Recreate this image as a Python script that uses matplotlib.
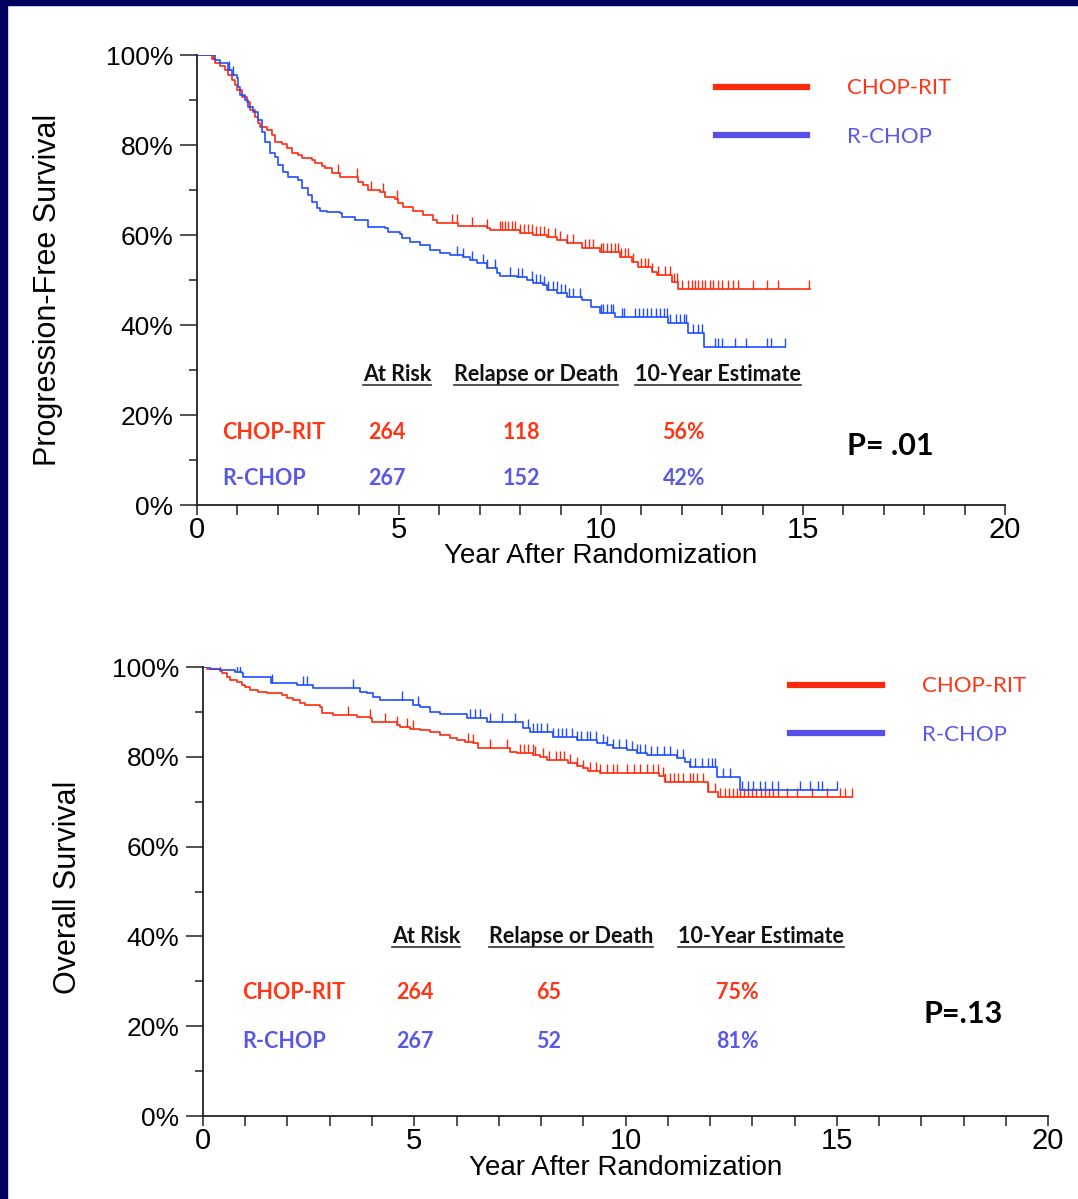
import numpy as np
import matplotlib.pyplot as plt
from matplotlib.lines import Line2D
from matplotlib.patches import Rectangle

# Kaplan-Meier steps: event times (years) and survival (%) right after each step
pfs_rit_t = [0.37, 0.45, 0.57, 0.69, 0.77, 0.87, 0.94, 0.99, 1.11, 1.24, 1.31, 1.44, 1.51, 1.56,
             1.73, 1.86, 1.93, 2.10, 2.23, 2.35, 2.50, 2.60, 2.85, 2.92, 3.09, 3.17, 3.34, 3.54,
             3.99, 4.11, 4.23, 4.53, 4.65, 4.90, 4.98, 5.10, 5.35, 5.59, 5.84, 5.94, 6.46, 7.18,
             7.25, 8.00, 8.32, 8.66, 8.91, 9.16, 9.53, 9.98, 10.47, 10.77, 10.92, 11.26, 11.39,
             11.76, 11.90]
pfs_rit_s = [99.1, 98.2, 97.6, 96.7, 95.6, 94.4, 93.3, 92.2, 90.7, 89.6, 87.8, 86.2, 84.9, 84.0,
             83.3, 82.2, 80.7, 80.2, 79.3, 78.2, 77.8, 77.1, 76.7, 76.0, 75.3, 74.9, 73.8, 72.9,
             71.8, 71.1, 70.0, 69.6, 68.4, 68.0, 67.1, 66.2, 65.4, 64.4, 63.3, 62.7, 62.0, 61.6,
             61.1, 60.4, 60.0, 59.6, 58.9, 58.2, 57.1, 56.2, 55.1, 54.0, 52.9, 51.8, 51.1,
             49.6, 48.0]
pfs_rit_end = 15.17
pfs_rit_cens = [0.1, 0.4, 3.5, 3.97, 4.3, 4.6, 4.95, 6.31, 6.44, 6.81, 7.18, 7.5, 7.55, 7.62,
                7.7, 7.8, 7.87, 8.0, 8.1, 8.2, 8.3, 8.4, 8.5, 8.6, 8.7, 8.86, 8.99, 9.16, 9.3,
                9.6, 9.7, 9.8, 10.0, 10.05, 10.15, 10.25, 10.35, 10.42, 10.5, 10.6, 10.67, 10.8,
                11.0, 11.1, 11.16, 11.26, 11.4, 11.58, 11.7, 11.8, 11.88, 12.0, 12.15, 12.25,
                12.33, 12.4, 12.5, 12.58, 12.7, 12.77, 12.9, 13.0, 13.14, 13.27, 13.39, 13.76,
                14.1, 14.38, 15.15]

pfs_rch_t = [0.45, 0.57, 0.77, 0.87, 0.99, 1.01, 1.06, 1.19, 1.26, 1.39, 1.51, 1.61, 1.68, 1.81,
             1.93, 2.00, 2.13, 2.25, 2.50, 2.60, 2.75, 2.85, 2.97, 3.04, 3.22, 3.54, 3.59, 3.91,
             4.23, 4.65, 4.73, 5.02, 5.07, 5.27, 5.52, 5.77, 6.01, 6.26, 6.58, 6.76, 6.93, 7.18,
             7.43, 7.50, 7.92, 8.17, 8.32, 8.56, 8.66, 8.91, 9.16, 9.53, 9.75, 9.98, 10.35,
             11.66, 12.15, 12.55]
pfs_rch_s = [98.9, 98.2, 96.7, 95.6, 94.9, 92.9, 91.1, 90.0, 88.4, 87.3, 85.6, 82.9, 80.7, 78.2,
             77.3, 75.6, 74.0, 72.9, 72.2, 70.4, 68.9, 67.3, 66.0, 65.3, 65.1, 64.9, 64.0, 63.3,
             61.8, 61.6, 60.7, 60.2, 59.3, 58.4, 57.8, 56.7, 56.0, 55.6, 55.1, 54.4, 53.8, 52.7,
             51.6, 50.9, 50.7, 50.0, 49.3, 48.9, 47.8, 47.1, 46.2, 45.6, 44.0, 42.7, 41.8,
             40.4, 38.2, 35.1]
pfs_rch_end = 14.55
pfs_rch_cens = [0.8, 0.9, 6.44, 6.58, 6.81, 7.08, 7.18, 7.38, 7.75, 7.95, 8.05, 8.3, 8.4, 8.5,
                8.6, 8.7, 8.8, 8.9, 9.0, 9.1, 9.2, 9.3, 9.48, 10.0, 10.05, 10.15, 10.25, 10.3,
                10.52, 10.56, 10.85, 10.95, 11.05, 11.15, 11.25, 11.35, 11.45, 11.55, 11.63,
                11.72, 11.85, 11.95, 12.05, 12.1, 12.28, 12.4, 12.5, 12.82, 12.9, 13.0, 13.32,
                13.6, 14.1, 14.2, 14.55]

os_rit_t = [0.10, 0.40, 0.45, 0.57, 0.64, 0.80, 0.92, 0.99, 1.11, 1.30, 1.51, 1.87, 1.99, 2.13,
            2.30, 2.41, 2.77, 2.82, 3.08, 3.64, 3.95, 4.00, 4.59, 4.66, 4.90, 5.13, 5.37, 5.61,
            5.85, 6.01, 6.20, 6.39, 6.51, 7.27, 7.43, 7.81, 7.98, 8.14, 8.64, 8.85, 8.99, 9.11,
            9.40, 10.80, 10.93, 11.95, 12.19]
os_rit_s = [99.6, 99.2, 98.7, 97.8, 97.1, 96.7, 96.0, 95.5, 94.9, 94.4, 94.1, 93.8, 93.1, 92.7,
            92.0, 91.5, 91.1, 89.8, 89.3, 88.9, 88.6, 87.8, 87.1, 86.6, 86.2, 86.0, 85.5, 84.9,
            84.2, 83.7, 83.3, 83.1, 82.0, 81.1, 80.8, 80.4, 80.0, 79.3, 78.6, 77.9, 77.4, 76.8,
            76.3, 75.7, 74.4, 72.2, 71.0]
os_rit_end = 15.36
os_rit_cens = [0.05, 0.4, 3.43, 3.95, 4.31, 4.59, 4.83, 4.97, 6.27, 6.39, 6.79, 7.2, 7.5, 7.6,
               7.7, 7.8, 7.86, 8.05, 8.2, 8.35, 8.45, 8.55, 8.69, 8.85, 8.99, 9.16, 9.3, 9.4,
               9.56, 9.7, 9.8, 10.03, 10.2, 10.34, 10.5, 10.65, 10.77, 10.89, 10.93, 11.05,
               11.15, 11.25, 11.35, 11.52, 11.6, 11.7, 11.83, 11.95, 12.12, 12.24, 12.35, 12.45,
               12.55, 12.64, 12.7, 12.8, 12.9, 13.0, 13.1, 13.2, 13.3, 13.4, 13.5, 13.6, 13.82,
               14.06, 14.41, 14.77, 15.07, 15.2, 15.36]

os_rch_t = [0.17, 0.40, 0.76, 0.92, 0.95, 1.61, 2.22, 2.60, 3.72, 3.88, 4.02, 4.19, 4.97, 5.14,
            5.37, 5.61, 6.25, 6.72, 7.57, 7.74, 8.28, 8.85, 9.33, 9.56, 9.70, 10.04, 10.27,
            10.51, 11.22, 11.41, 11.53, 12.17, 12.71]
os_rch_s = [99.6, 99.3, 98.9, 98.7, 97.8, 96.4, 96.0, 95.3, 94.4, 94.2, 93.3, 92.7, 91.5, 91.1,
            90.0, 89.5, 88.6, 87.8, 86.4, 85.5, 84.4, 83.7, 83.1, 82.6, 82.0, 81.5, 80.8,
            80.4, 79.7, 78.8, 77.7, 75.5, 72.6]
os_rch_end = 15.0
os_rch_cens = [0.8, 0.88, 1.63, 2.37, 2.46, 3.55, 4.71, 5.09, 6.32, 6.44, 6.56, 6.79, 7.08,
               7.38, 7.7, 7.8, 7.9, 8.0, 8.14, 8.28, 8.4, 8.5, 8.6, 8.73, 8.85, 8.95, 9.09,
               9.16, 9.3, 9.47, 9.56, 9.7, 9.85, 10.0, 10.15, 10.27, 10.34, 10.45, 10.6, 10.75,
               10.9, 11.05, 11.22, 11.36, 11.53, 11.65, 11.8, 11.95, 12.05, 12.12, 12.31,
               12.48, 12.76, 12.9, 13.02, 13.18, 13.3, 13.46, 13.6, 14.13, 14.37, 14.56,
               14.65, 15.0]

arms = ["CHOP-RIT", "R-CHOP"]
header = ["At Risk", "Relapse or Death", "10-Year Estimate"]
pfs_table = [["264", "118", "56%"], ["267", "152", "42%"]]
os_table = [["264", "65", "75%"], ["267", "52", "81%"]]
pfs_p = "P= .01"
os_p = "P=.13"

RED = "#ff2a0d"
BLUE = "#1f4dff"
RED_TXT = "#ff3516"
BLUE_TXT = "#5a58e6"
ARIAL = ["Liberation Sans", "DejaVu Sans"]
SLIDE = ["Lato", "DejaVu Sans"]


def km(ax, t, s, end, cens, color):
    tt = np.r_[0.0, t, end]
    ss = np.r_[100.0, s, s[-1]]
    ax.step(tt, ss, where="post", color=color, lw=1.2)
    idx = np.searchsorted(tt, cens, side="right") - 1
    ax.vlines(cens, ss[idx], ss[idx] + 2.0, color=color, lw=1.0)


def style_axes(ax):
    ax.set_xlim(0, 20)
    ax.set_ylim(0, 100)
    for sp in ["top", "right"]:
        ax.spines[sp].set_visible(False)
    for sp in ["left", "bottom"]:
        ax.spines[sp].set_linewidth(1.3)
        ax.spines[sp].set_color("#222222")
    ax.set_xticks([0, 5, 10, 15, 20])
    ax.set_xticks(range(21), minor=True)
    ax.set_yticks(range(0, 101, 20))
    ax.set_yticks(range(10, 100, 20), minor=True)
    ax.set_yticklabels([f"{v}%" for v in range(0, 101, 20)], family=ARIAL, fontsize=19)
    ax.set_xticklabels(["0", "5", "10", "15", "20"], family=ARIAL, fontsize=21)
    ax.tick_params(axis="x", which="both", length=7, width=1.1, pad=1, color="#222222")
    ax.tick_params(axis="y", which="major", length=12, width=1.1, pad=5, color="#222222")
    ax.tick_params(axis="y", which="minor", length=5.5, width=1.1, color="#222222")


def table(ax, rows, x_head, x_cols, x_name, y_head, y_rows, p_text, p_xy):
    fig = ax.figure
    kw = dict(va="center", family=SLIDE, fontweight="bold", fontsize=15.5)
    heads = [ax.text(x, y_head, h, ha="center", color="#111111", **kw)
             for h, x in zip(header, x_head)]
    for arm, vals, y, c in zip(arms, rows, y_rows, [RED_TXT, BLUE_TXT]):
        ax.text(x_name, y, arm, ha="left", color=c, **kw)
        for v, x in zip(vals, x_cols):
            ax.text(x, y, v, ha="center", color=c, **kw)
    ax.text(p_xy[0], p_xy[1], p_text, ha="center", va="center", family=SLIDE,
            fontweight="bold", fontsize=22, color="black")
    # underline the column headers
    fig.canvas.draw()
    r = fig.canvas.get_renderer()
    inv = fig.transFigure.inverted()
    for h in heads:
        bb = h.get_window_extent(r)
        (x0, y0), (x1, _) = inv.transform([[bb.x0, bb.y0], [bb.x1, bb.y1]])
        fig.add_artist(Line2D([x0, x1], [y0, y0], transform=fig.transFigure,
                              color="#333333", lw=1.2))


def legend(ax, anchor):
    handles = [Line2D([], [], color=RED, lw=4.5), Line2D([], [], color="#5650e8", lw=4.5)]
    ax.legend(handles, arms, loc="upper left", bbox_to_anchor=anchor, frameon=False,
              prop={"family": SLIDE, "size": 16}, labelcolor=[RED_TXT, BLUE_TXT],
              handlelength=4.1, handletextpad=1.8, labelspacing=1.3, borderpad=0)


fig = plt.figure(figsize=(10.78, 11.99), dpi=100)
fig.patch.set_facecolor("white")

ax1 = fig.add_axes([0.1827, 0.5788, 0.7496, 0.3753])
km(ax1, pfs_rit_t, pfs_rit_s, pfs_rit_end, pfs_rit_cens, RED)
km(ax1, pfs_rch_t, pfs_rch_s, pfs_rch_end, pfs_rch_cens, BLUE)
style_axes(ax1)
legend(ax1, (0.629, 0.973))

ax2 = fig.add_axes([0.1883, 0.0692, 0.7839, 0.3745])
km(ax2, os_rit_t, os_rit_s, os_rit_end, os_rit_cens, RED)
km(ax2, os_rch_t, os_rch_s, os_rch_end, os_rch_cens, BLUE)
style_axes(ax2)
legend(ax2, (0.682, 1.004))

fig.text(0.5575, 0.5365, "Year After Randomization", ha="center", va="center",
         family=ARIAL, fontsize=20)
fig.text(0.5802, 0.0255, "Year After Randomization", ha="center", va="center",
         family=ARIAL, fontsize=20)
fig.text(0.0445, 0.758, "Progression-Free Survival", rotation=90, ha="center", va="center",
         family=ARIAL, fontsize=22)
fig.text(0.063, 0.2595, "Overall Survival", rotation=90, ha="center", va="center",
         family=ARIAL, fontsize=22)

table(ax1, pfs_table, [4.95, 8.39, 12.9], [4.70, 8.02, 12.05], 0.62, 28.9, [16.2, 5.8],
      pfs_p, (17.15, 13.1))
table(ax2, os_table, [5.28, 8.71, 13.2], [5.02, 8.19, 12.64], 0.92, 39.9, [27.4, 16.7],
      os_p, (17.99, 22.7))

# navy slide frame along the left and top edges
fig.add_artist(Rectangle((0, 0), 7 / 1078, 1, transform=fig.transFigure, color="#00005e"))
fig.add_artist(Rectangle((0, 1 - 5 / 1199), 1, 5 / 1199, transform=fig.transFigure,
                         color="#00005e"))

fig.savefig("out.png", dpi=100)
